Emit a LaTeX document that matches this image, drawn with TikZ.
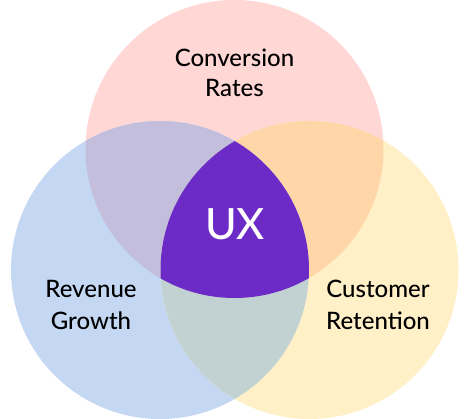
\documentclass[tikz,border=0pt]{standalone}
\usepackage{fontspec}
\setmainfont{Lato Medium}
\definecolor{cpink}{RGB}{255,215,213}
\definecolor{cblue}{RGB}{196,216,244}
\definecolor{cyellow}{RGB}{255,240,200}
\definecolor{clav}{RGB}{194,190,220}
\definecolor{cpeach}{RGB}{255,214,168}
\definecolor{cgray}{RGB}{194,210,210}
\definecolor{cpurple}{RGB}{108,43,198}
\tikzset{
  lbl/.style={anchor=base, inner sep=0pt, font=\fontsize{24}{28}\selectfont, text=black},
  ux/.style={anchor=base, inner sep=0pt, font=\fontsize{43}{48}\selectfont, text=white}
}
\begin{document}
\begin{tikzpicture}[x=1pt,y=-1pt]
\useasboundingbox (0,0) rectangle (471,419);
\def\rr{149pt}
\coordinate (ct) at (234.5,149);
\coordinate (cl) at (160,270);
\coordinate (cr) at (309.5,270);
\fill[cpink] (ct) circle[radius=\rr];
\fill[cblue] (cl) circle[radius=\rr];
\fill[cyellow] (cr) circle[radius=\rr];
\begin{scope}
  \clip (ct) circle[radius=\rr];
  \fill[clav] (cl) circle[radius=\rr];
  \fill[cpeach] (cr) circle[radius=\rr];
\end{scope}
\begin{scope}
  \clip (cl) circle[radius=\rr];
  \fill[cgray] (cr) circle[radius=\rr];
\end{scope}
\begin{scope}
  \clip (ct) circle[radius=\rr];
  \clip (cl) circle[radius=\rr];
  \fill[cpurple] (cr) circle[radius=\rr];
\end{scope}
\node[lbl] (t1) at (234.5,67) {Conversion};
\node[lbl] (t2) at (234.5,97) {Rates};
\node[lbl] (l1) at (91,298) {Revenue};
\node[lbl] (l2) at (91,330) {Growth};
\node[lbl] (r1) at (378,298) {Customer};
\node[lbl] (r2) at (378,330) {Retention};
\node[ux] (u) at (235,240) {UX};
\end{tikzpicture}
\end{document}
